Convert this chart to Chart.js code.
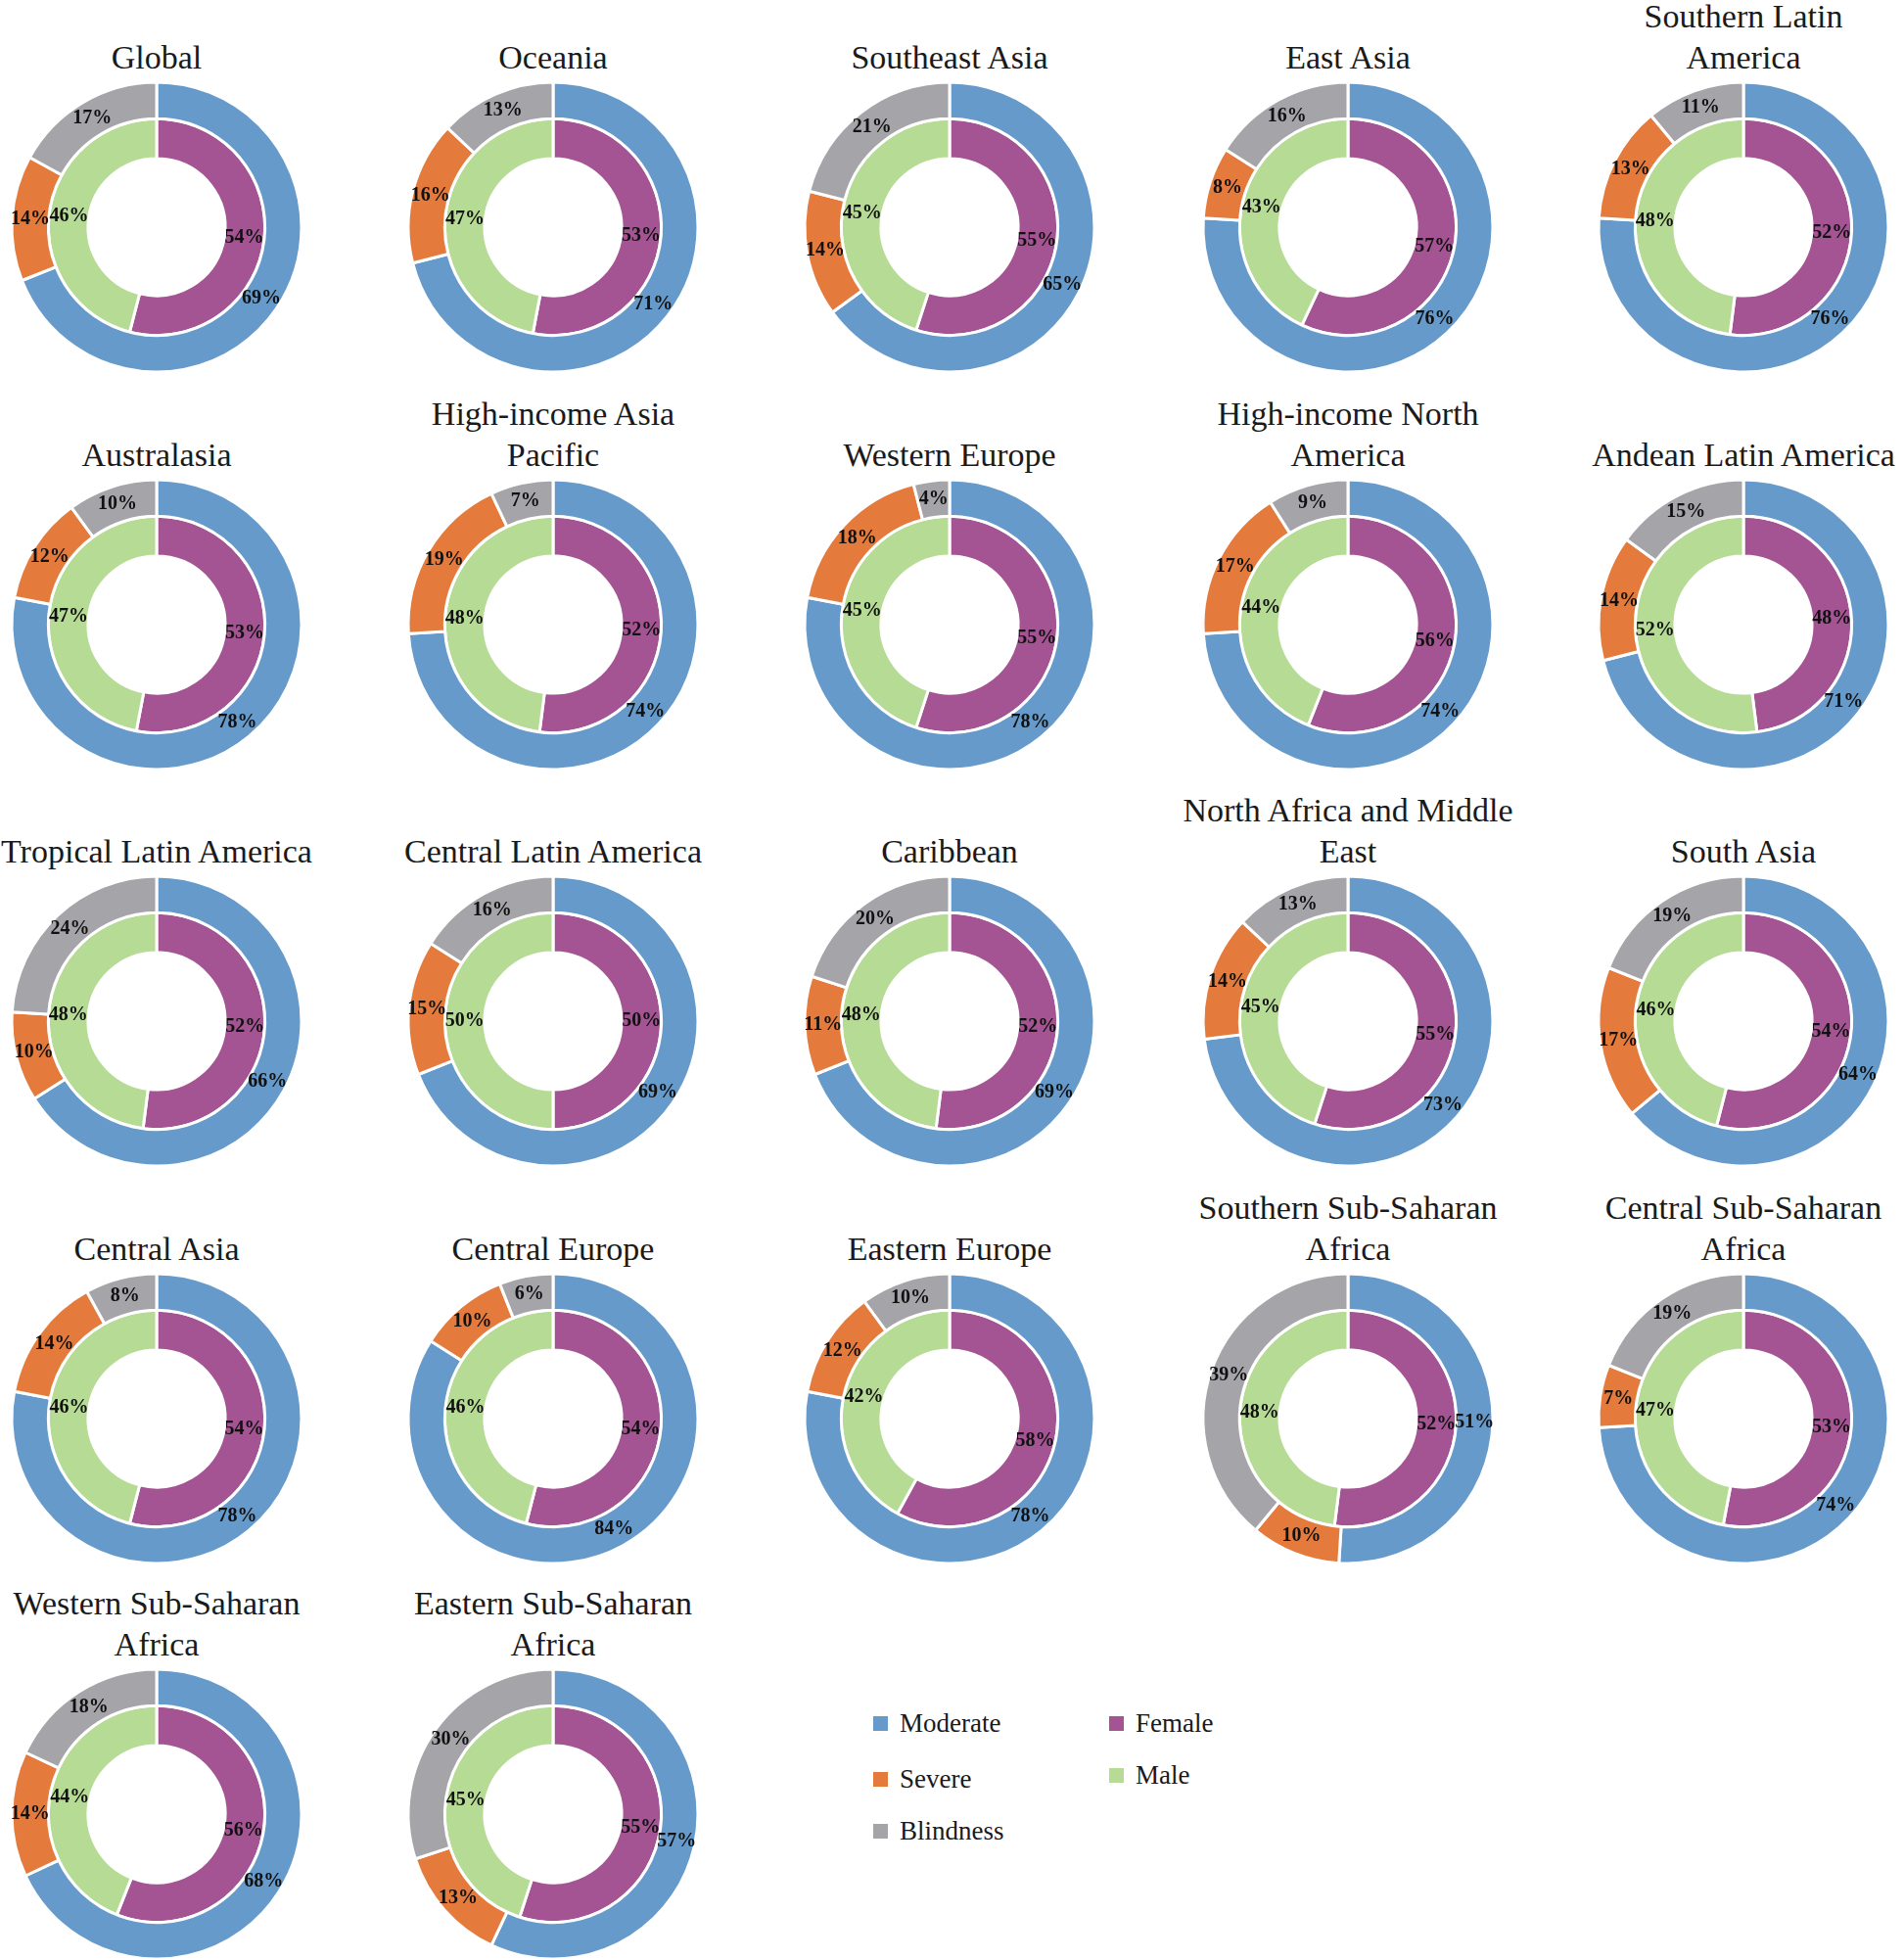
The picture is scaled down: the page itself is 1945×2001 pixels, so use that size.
<!DOCTYPE html>
<html>
<head>
<meta charset="utf-8">
<title>Vision loss by severity and sex, by region</title>
<script src="https://cdn.jsdelivr.net/npm/chart.js@4.4.0/dist/chart.umd.min.js"></script>
<style>
  body { margin: 0; background: #fff; }
  #page { position: relative; width: 1945px; height: 2001px; font-family: "Liberation Serif", "DejaVu Serif", serif; color: #1a1a1a; overflow: hidden; }
  .title { position: absolute; width: 420px; text-align: center; font-size: 34px; line-height: 42px; white-space: nowrap; }
  canvas { position: absolute; }
  .leg { position: absolute; font-size: 27px; line-height: 30px; white-space: nowrap; }
  .leg span { display: inline-block; width: 15px; height: 15px; margin-right: 12px; vertical-align: 1px; }
</style>
</head>
<body>
<div id="page"></div>
<script>
// region titles, as wrapped in the figure
const regions = [
  ['Global'], ['Oceania'], ['Southeast Asia'], ['East Asia'], ['Southern Latin', 'America'],
  ['Australasia'], ['High-income Asia', 'Pacific'], ['Western Europe'], ['High-income North', 'America'], ['Andean Latin America'],
  ['Tropical Latin America'], ['Central Latin America'], ['Caribbean'], ['North Africa and Middle', 'East'], ['South Asia'],
  ['Central Asia'], ['Central Europe'], ['Eastern Europe'], ['Southern Sub-Saharan', 'Africa'], ['Central Sub-Saharan', 'Africa'],
  ['Western Sub-Saharan', 'Africa'], ['Eastern Sub-Saharan', 'Africa']
];

// outer ring (%)
const moderate  = [69, 71, 65, 76, 76, 78, 74, 78, 74, 71, 66, 69, 69, 73, 64, 78, 84, 78, 51, 74, 68, 57];
const severe    = [14, 16, 14,  8, 13, 12, 19, 18, 17, 14, 10, 15, 11, 14, 17, 14, 10, 12, 10,  7, 14, 13];
const blindness = [17, 13, 21, 16, 11, 10,  7,  4,  9, 15, 24, 16, 20, 13, 19,  8,  6, 10, 39, 19, 18, 30];

// inner ring (%)
const female = [54, 53, 55, 57, 52, 53, 52, 55, 56, 48, 52, 50, 52, 55, 54, 54, 54, 58, 52, 53, 56, 55];
const male   = [46, 47, 45, 43, 48, 47, 48, 45, 44, 52, 48, 50, 48, 45, 46, 46, 46, 42, 48, 47, 44, 45];

const severityLabels = ['Moderate', 'Severe', 'Blindness'];
const sexLabels = ['Female', 'Male'];

const severityColors = ['#659ACB', '#E47B3C', '#A5A4A8'];
const sexColors = ['#A45492', '#B6DB95'];

const colX = [160, 565, 970, 1377, 1781];
const rowY = [232, 638, 1043, 1449, 1853];

// percent labels at each arc's centre
const pctLabels = {
  id: 'pctLabels',
  afterDatasetsDraw(chart) {
    const c = chart.ctx;
    c.save();
    c.font = 'bold 20px "Liberation Serif"';
    c.fillStyle = '#111';
    c.textAlign = 'center';
    c.textBaseline = 'middle';
    chart.data.datasets.forEach((ds, di) => {
      chart.getDatasetMeta(di).data.forEach((arc, j) => {
        const p = arc.tooltipPosition();
        c.fillText(ds.data[j] + '%', p.x, p.y);
      });
    });
    c.restore();
  }
};

const page = document.getElementById('page');
const S = 320;

regions.forEach((lines, i) => {
  const cx = colX[i % 5], cy = rowY[Math.floor(i / 5)];

  const t = document.createElement('div');
  t.className = 'title';
  t.innerHTML = lines.join('<br>');
  t.style.left = (cx - 210) + 'px';
  t.style.top = (cy - 173 - 21 - (lines.length - 1) * 42) + 'px';
  page.appendChild(t);

  const cv = document.createElement('canvas');
  cv.width = S; cv.height = S;
  cv.style.left = (cx - S / 2) + 'px';
  cv.style.top = (cy - S / 2) + 'px';
  page.appendChild(cv);

  new Chart(cv, {
    type: 'doughnut',
    data: {
      datasets: [{
        label: 'Severity',
        labels: severityLabels,
        data: [moderate[i], severe[i], blindness[i]],
        backgroundColor: severityColors,
        borderColor: '#fff',
        borderWidth: 3,
        weight: 0.92
      }, {
        label: 'Sex',
        labels: sexLabels,
        data: [female[i], male[i]],
        backgroundColor: sexColors,
        borderColor: '#fff',
        borderWidth: 3,
        weight: 1
      }]
    },
    options: {
      responsive: false,
      animation: false,
      events: [],
      radius: 148,
      cutout: 75,
      layout: { padding: 0 },
      plugins: { legend: { display: false }, tooltip: { enabled: false } }
    },
    plugins: [pctLabels]
  });
});

// legend
const legendItems = [
  { text: severityLabels[0], color: severityColors[0], x: 892, y: 1760 },
  { text: severityLabels[1], color: severityColors[1], x: 892, y: 1817 },
  { text: severityLabels[2], color: severityColors[2], x: 892, y: 1870 },
  { text: sexLabels[0], color: sexColors[0], x: 1133, y: 1760 },
  { text: sexLabels[1], color: sexColors[1], x: 1133, y: 1813 }
];
legendItems.forEach(it => {
  const d = document.createElement('div');
  d.className = 'leg';
  d.style.left = it.x + 'px';
  d.style.top = (it.y - 15) + 'px';
  d.innerHTML = '<span style="background:' + it.color + '"></span>' + it.text;
  page.appendChild(d);
});
</script>
</body>
</html>
